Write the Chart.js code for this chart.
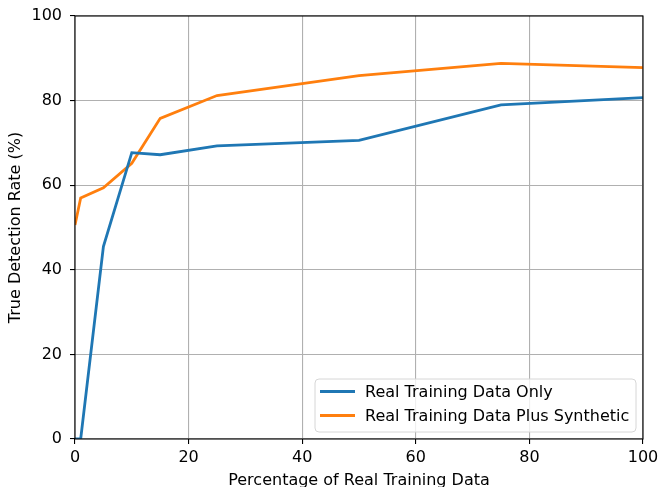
<!DOCTYPE html>
<html>
<head>
<meta charset="utf-8">
<script src="https://cdn.jsdelivr.net/npm/chart.js@4.4.0/dist/chart.umd.min.js"></script>
<style>
html,body{margin:0;padding:0;background:#fff;}
#wrap{width:659px;height:487px;position:relative;}
</style>
</head>
<body>
<div id="wrap"><canvas id="c" width="659" height="487"></canvas></div>
<script>
const percentages = [0, 1, 5, 10, 15, 25, 50, 75, 100];
const realOnly = [0, 0, 45.5, 67.7, 67.2, 69.3, 70.6, 79.0, 80.7];
const realPlusSynthetic = [50.6, 57.0, 59.4, 65.2, 75.8, 81.2, 85.9, 88.8, 87.8];
const seriesLabels = ["Real Training Data Only", "Real Training Data Plus Synthetic"];
const xTicks = [0, 20, 40, 60, 80, 100];
const yTicks = [0, 20, 40, 60, 80, 100];
const xTitle = "Percentage of Real Training Data";
const yTitle = "True Detection Rate (%)";

const FONT = "'DejaVu Sans', sans-serif";
const FS = 16;
const colors = ["#1f77b4", "#ff7f0e"];

const framePlugin = {
  id: 'frame',
  afterDraw(chart) {
    const {ctx, chartArea: a} = chart;
    ctx.save();
    ctx.strokeStyle = '#000';
    ctx.lineWidth = 1.1;
    ctx.strokeRect(a.left, a.top, a.right - a.left, a.bottom - a.top);
    // legend
    const bx = 315, by = 379, bw = 321, bh = 53, r = 4;
    ctx.beginPath();
    ctx.moveTo(bx + r, by);
    ctx.arcTo(bx + bw, by, bx + bw, by + bh, r);
    ctx.arcTo(bx + bw, by + bh, bx, by + bh, r);
    ctx.arcTo(bx, by + bh, bx, by, r);
    ctx.arcTo(bx, by, bx + bw, by, r);
    ctx.closePath();
    ctx.fillStyle = 'rgba(255,255,255,0.8)';
    ctx.fill();
    ctx.strokeStyle = '#d6d6d6';
    ctx.lineWidth = 1;
    ctx.stroke();
    ctx.font = FS + "px " + FONT;
    ctx.textBaseline = 'middle';
    ctx.textAlign = 'left';
    const rows = [391.5, 415.5];
    chart.data.datasets.forEach((ds, i) => {
      ctx.strokeStyle = ds.borderColor;
      ctx.lineWidth = 2.8;
      ctx.beginPath();
      ctx.moveTo(320, rows[i]);
      ctx.lineTo(355, rows[i]);
      ctx.stroke();
      ctx.fillStyle = '#000';
      ctx.fillText(ds.label, 365, rows[i] + 1);
    });
    ctx.restore();
  }
};

new Chart(document.getElementById('c'), {
  type: 'line',
  data: {
    datasets: [
      { label: seriesLabels[0], data: percentages.map((x, i) => ({x, y: realOnly[i]})), borderColor: colors[0], backgroundColor: colors[0], borderWidth: 2.8, pointRadius: 0, tension: 0 },
      { label: seriesLabels[1], data: percentages.map((x, i) => ({x, y: realPlusSynthetic[i]})), borderColor: colors[1], backgroundColor: colors[1], borderWidth: 2.8, pointRadius: 0, tension: 0 }
    ]
  },
  options: {
    responsive: false,
    animation: false,
    devicePixelRatio: 1,
    layout: { padding: { left: 0, right: 16, top: 16, bottom: 0 } },
    plugins: { legend: { display: false }, tooltip: { enabled: false } },
    scales: {
      x: {
        type: 'linear', min: 0, max: 100,
        afterBuildTicks(s) { s.ticks = xTicks.map(v => ({value: v})); },
        afterFit(s) { s.height = 48; s.paddingLeft = 0; s.paddingRight = 0; },
        grid: { color: '#b0b0b0', lineWidth: 1.1, tickColor: '#000', tickLength: 5, drawTicks: true },
        border: { display: false },
        ticks: { color: '#000', font: { family: FONT, size: FS }, padding: 4, maxRotation: 0 },
        title: { display: true, text: xTitle, color: '#000', font: { family: FONT, size: FS }, padding: { top: 0, bottom: -3 } }
      },
      y: {
        type: 'linear', min: 0, max: 100,
        afterBuildTicks(s) { s.ticks = yTicks.map(v => ({value: v})); },
        afterFit(s) { s.width = 75; s.paddingTop = 0; s.paddingBottom = 0; },
        grid: { color: '#b0b0b0', lineWidth: 1.1, tickColor: '#000', tickLength: 5, drawTicks: true },
        border: { display: false },
        ticks: { color: '#000', font: { family: FONT, size: FS }, padding: 8 },
        title: { display: true, text: yTitle, color: '#000', font: { family: FONT, size: FS }, padding: { top: 6, bottom: 0 } }
      }
    }
  },
  plugins: [framePlugin]
});
</script>
</body>
</html>
